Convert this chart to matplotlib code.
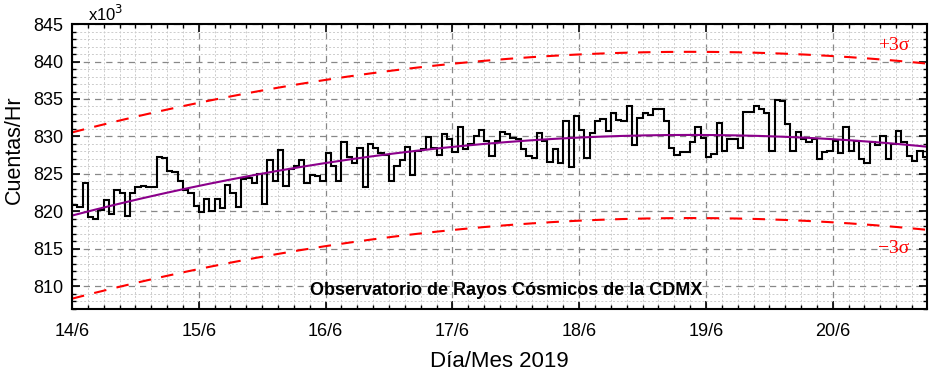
#!/bin/env python3

import numpy as np
import matplotlib
matplotlib.use("Agg")
import matplotlib.pyplot as plt
from matplotlib.ticker import MultipleLocator, FixedLocator

# hourly counts (x10^3) starting 14/6 00:00
counts = [
    820.8, 820.6, 823.8, 819.3, 819.0, 820.2, 821.5, 819.6, 822.8, 822.5,
    819.4, 822.4, 823.3, 823.4, 823.2, 823.2, 827.3, 827.1, 825.4, 825.3,
    824.0, 822.8, 822.4, 820.7, 819.9, 821.6, 820.0, 821.7, 820.5, 823.5,
    822.5, 820.6, 824.3, 824.4, 823.8, 825.0, 821.0, 826.8, 824.1, 828.2,
    823.4, 825.6, 826.0, 826.8, 823.8, 824.9, 824.7,
    824.0, 827.8, 826.0, 824.0, 829.2, 827.2, 826.5, 828.4, 823.2, 829.0,
    828.4, 827.8, 827.5, 824.0,
    826.0, 826.9, 828.6, 824.9, 828.0, 828.3, 829.9, 828.5, 827.5, 830.3,
    829.6, 827.9, 831.2, 828.3, 829.0, 830.0, 830.9, 829.4, 827.4, 829.4,
    830.6,
    830.3, 829.8, 829.6, 828.3, 827.4, 827.1, 830.4, 829.4, 826.6, 828.3,
    826.4, 832.0, 825.9, 832.7, 830.9, 827.1, 830.5, 832.0, 832.3,
    830.7, 833.1, 832.2, 832.0, 834.0, 828.9, 832.5, 833.1, 832.9, 833.6,
    833.6, 832.0, 828.5, 827.5, 827.9, 827.9, 829.2, 831.2, 829.8, 827.2,
    827.7, 831.8, 828.1, 829.7, 829.6, 828.5, 833.2, 833.3, 834.0, 833.7,
    833.1, 828.1, 834.9, 834.7, 831.6, 828.1, 830.6, 829.7, 829.2, 829.7,
    827.0, 827.9, 828.1, 829.4, 827.8, 831.3, 828.1, 829.4, 827.0, 826.4,
    829.2, 828.8, 830.0, 827.0, 829.0, 830.7, 829.2, 827.4, 826.7, 828.1,
    827.2,
]
start_day = 14
day_ticks = [14, 15, 16, 17, 18, 19, 20]
day_labels = ["14/6", "15/6", "16/6", "17/6", "18/6", "19/6", "20/6"]
three_sigma = 11.1

counts = np.array(counts)
edges = start_day + np.arange(len(counts) + 1) / 24.0
centers = start_day + (np.arange(len(counts)) + 0.5) / 24.0

# second order fit and 3 sigma band
coef = np.polyfit(centers, counts, 2)
xfit = np.linspace(start_day, edges[-1], 300)
yfit = np.polyval(coef, xfit)

plt.rcParams['font.family'] = ['Liberation Sans', 'DejaVu Sans']
fig = plt.figure(figsize=(9.35, 3.71), dpi=100)
ax = fig.add_axes([0.077, 0.168, 0.914, 0.767])

ax.stairs(counts, edges, color="black", lw=1.5, baseline=None)
ax.plot(xfit, yfit, color="#8b008b", lw=1.5)
ax.plot(xfit, yfit + three_sigma, color="red", lw=1.5, ls=(0, (6, 5)))
ax.plot(xfit, yfit - three_sigma, color="red", lw=1.5, ls=(0, (6, 5)))

ax.set_xlim(start_day, 20.74)
ax.set_ylim(807, 845)
ax.xaxis.set_major_locator(FixedLocator(day_ticks))
ax.set_xticklabels(day_labels)
ax.xaxis.set_minor_locator(MultipleLocator(3 / 24))
ax.yaxis.set_major_locator(MultipleLocator(5))
ax.yaxis.set_minor_locator(MultipleLocator(1))

ax.grid(which="major", color="#888888", ls=(0, (5, 4)), lw=0.9)
ax.grid(which="minor", color="#cccccc", ls=(0, (2, 2)), lw=0.7)
ax.set_axisbelow(True)

ax.tick_params(which="both", direction="in", top=True, right=True, labelsize=13)
ax.tick_params(which="major", length=6, width=1.2)
ax.tick_params(which="minor", length=3, width=1)
ax.tick_params(axis="x", pad=10)
ax.tick_params(axis="y", pad=6)
for sp in ax.spines.values():
    sp.set_linewidth(1.5)

ax.set_ylabel("Cuentas/Hr", fontsize=15.5)
ax.yaxis.set_label_coords(-0.055, 0.56)
ax.set_xlabel("Día/Mes 2019", fontsize=16, labelpad=8)
fig.text(0.094, 0.962, r"x10$^3$", fontsize=12, va="center")

ax.text(0.508, 0.065, "Observatorio de Rayos Cósmicos de la CDMX", transform=ax.transAxes,
        ha="center", va="center", fontsize=13, fontweight="bold")
ax.text(0.962, 0.925, "+3σ", transform=ax.transAxes, color="red", ha="center",
        va="center", fontsize=14, family="Liberation Serif")
ax.text(0.962, 0.21, "−3σ", transform=ax.transAxes, color="red", ha="center",
        va="center", fontsize=14, family="Liberation Serif")

fig.savefig("out.png", dpi=100)
